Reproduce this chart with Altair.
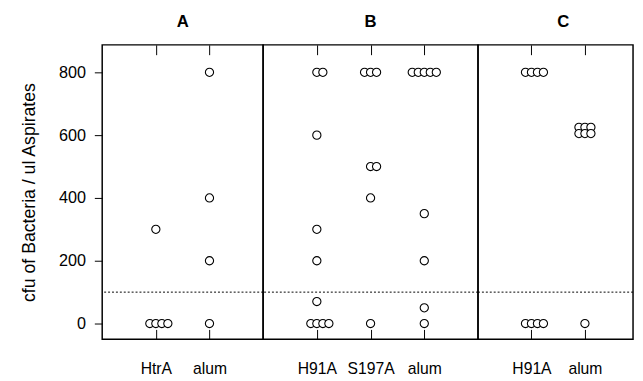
import altair as alt
import pandas as pd
from collections import Counter, defaultdict

# ---- values (cfu / ul) ----
a_htra = [300, 0, 0, 0, 0]
a_alum = [800, 400, 200, 0]
b_h91a = [800, 800, 600, 300, 200, 70, 0, 0, 0, 0]
b_s197a = [800, 800, 800, 500, 500, 400, 0]
b_alum = [800, 800, 800, 800, 800, 350, 200, 50, 0]
c_h91a = [800, 800, 800, 800, 0, 0, 0, 0]
c_alum = [625, 625, 625, 605, 605, 605, 0]

panel_names = ["A", "B", "C"]
panel_groups = {
    "A": ["HtrA", "alum"],
    "B": ["H91A", "S197A", "alum"],
    "C": ["H91A", "alum"],
}
panel_values = {
    "A": [a_htra, a_alum],
    "B": [b_h91a, b_s197a, b_alum],
    "C": [c_h91a, c_alum],
}
threshold = [100]
y_ticks = [0, 200, 400, 600, 800]
y_title = "cfu of Bacteria / ul Aspirates"

# ---- layout / style ----
FONT = "Liberation Sans"
STACK = 0.112  # horizontal stacking step (x units) for equal values
panel_width = {"A": 164, "B": 219, "C": 158}
panel_domain = {"A": [0, 3], "B": [0, 4], "C": [0, 2.9]}
title_dx = {"A": 0, "B": 0, "C": 8}
HEIGHT = 300
Y_DOMAIN = [-50, 887.5]

rows = []
for p in panel_names:
    for gi, (g, vals) in enumerate(zip(panel_groups[p], panel_values[p])):
        counts = Counter(vals)
        seen = defaultdict(int)
        for v in vals:
            k = seen[v]
            seen[v] += 1
            off = k - (counts[v] - 1) // 2
            rows.append({"panel": p, "group": g, "pos": gi + 1, "value": v,
                         "x": gi + 1 + off * STACK})
df = pd.DataFrame(rows)
thr_df = pd.DataFrame({"value": threshold})

yscale = alt.Scale(domain=Y_DOMAIN, nice=False, zero=False)


def make_panel(p):
    groups = panel_groups[p]
    sub = df[df.panel == p]
    xscale = alt.Scale(domain=panel_domain[p], nice=False, zero=False)
    positions = list(range(1, len(groups) + 1))
    label_expr = "[''," + ",".join("'%s'" % g for g in groups) + "][datum.value]"

    if p == "A":
        yaxis = alt.Axis(values=y_ticks, tickSize=8, labelPadding=9, domain=False,
                         grid=False, title=y_title, titleFontSize=18,
                         titleFontWeight="normal", titlePadding=20,
                         labelFontSize=16.5, labelColor="black", tickColor="black",
                         titleColor="black", labelFont=FONT, titleFont=FONT)
    else:
        yaxis = None

    points = alt.Chart(sub).mark_circle(
        fill="white", stroke="black", strokeWidth=1.1, opacity=1, size=70
    ).encode(
        x=alt.X("x:Q", scale=xscale,
                axis=alt.Axis(orient="bottom", values=positions, labelExpr=label_expr,
                              offset=-10, tickSize=10, domain=False, grid=False,
                              labelPadding=22, labelFontSize=16, labelFont=FONT,
                              labelColor="black", tickColor="black", title=None,
                              labelAngle=0, labelFlush=False)),
        y=alt.Y("value:Q", scale=yscale, axis=yaxis),
    )

    top_ticks = alt.Chart(sub).mark_circle(opacity=0).encode(
        x=alt.X("x:Q", scale=xscale,
                axis=alt.Axis(orient="top", values=positions, labels=False,
                              offset=-10, tickSize=10, domain=False, grid=False,
                              tickColor="black", title=None)),
        y=alt.Y("value:Q", scale=yscale, axis=yaxis),
    )

    rule = alt.Chart(thr_df).mark_rule(
        strokeDash=[2, 2], color="black", strokeWidth=1
    ).encode(y=alt.Y("value:Q", scale=yscale, axis=yaxis))

    return alt.layer(rule, top_ticks, points).resolve_axis(x="independent").properties(
        width=panel_width[p], height=HEIGHT,
        title=alt.Title(p, fontSize=17, fontWeight="bold", font=FONT, color="black",
                        offset=14, dx=title_dx[p]),
    )


chart = alt.hconcat(*[make_panel(p) for p in panel_names], spacing=0,
                    bounds="flush").properties(
    padding={"left": 12, "top": 0, "right": 0, "bottom": 0}
).configure(font=FONT).configure_view(
    stroke="black", strokeWidth=1.5
)

chart.save("out.html", embed_options={"renderer": "svg", "actions": False})
